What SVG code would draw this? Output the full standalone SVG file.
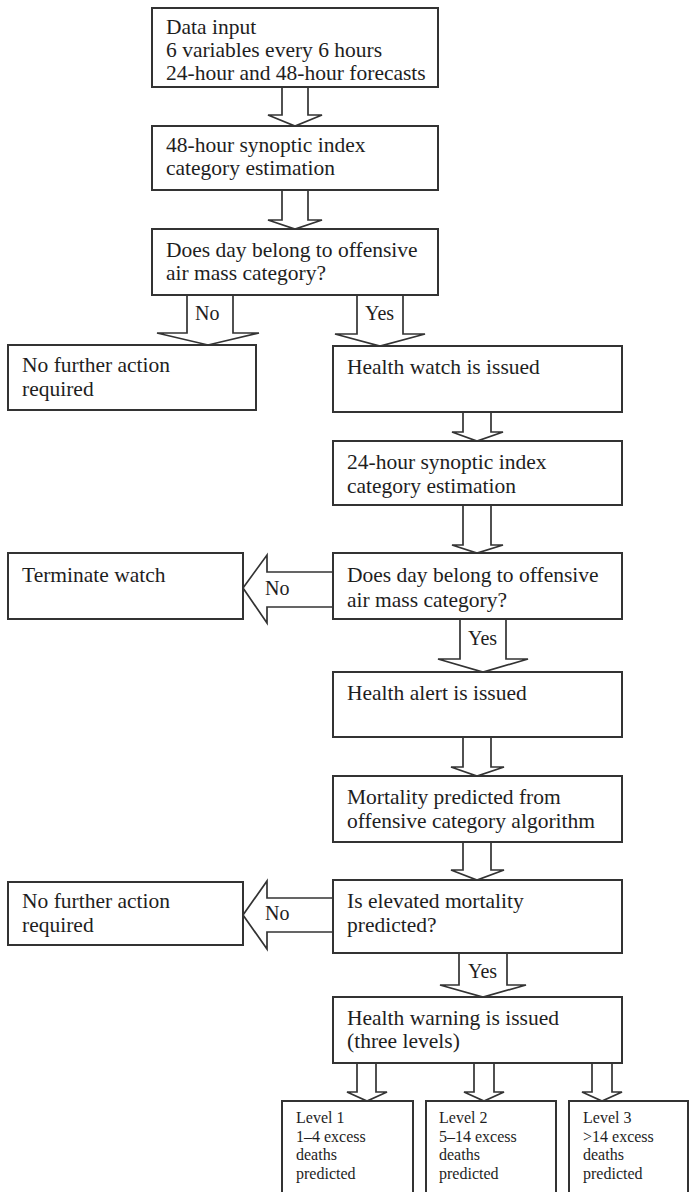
<svg xmlns="http://www.w3.org/2000/svg" width="690" height="1192" viewBox="0 0 690 1192">
<style>
.box{fill:#fff;stroke:#333;stroke-width:2}
.arr{fill:#fff;stroke:#333;stroke-width:1.7;stroke-linejoin:miter}
text{font-family:"Liberation Serif","Times New Roman",serif;fill:#1e1e1e}
.t{font-size:21.5px}
.s{font-size:16px}
.l{font-size:20px}
</style>
<rect width="690" height="1192" fill="#fff"/>
<g id="connectors">
<path class="arr" d="M282,87 V115 H268 L295,126 L322,115 H308 V87"/>
<path class="arr" d="M282,190 V220 H268 L295,229 L322,220 H308 V190"/>
<path class="arr" d="M187,295 V333 H157 L208,345 L259,333 H233 V295"/>
<text class="l" x="195" y="320">No</text>
<path class="arr" d="M357,295 V334 H335 L380,346 L425,334 H403 V295"/>
<text class="l" x="365" y="320">Yes</text>
<path class="arr" d="M463,412 V432 H452 L477,441 L503,432 H491 V412"/>
<path class="arr" d="M463,505 V545 H452 L477,553 L503,545 H491 V505"/>
<path class="arr" d="M333,572 H267 V555 L243,588 L267,623 V607 H333"/>
<text class="l" x="265" y="595">No</text>
<path class="arr" d="M460,619 V659 H438 L483,672 L528,659 H506 V619"/>
<text class="l" x="468" y="645">Yes</text>
<path class="arr" d="M463,737 V767 H451 L477,776 L504,767 H491 V737"/>
<path class="arr" d="M463,842 V870 H451 L477,880 L504,870 H491 V842"/>
<path class="arr" d="M333,898 H267 V881 L243,915 L267,949 V932 H333"/>
<text class="l" x="265" y="920">No</text>
<path class="arr" d="M459,953 V985 H440 L483,997 L526,985 H507 V953"/>
<text class="l" x="468" y="978">Yes</text>
<path class="arr" d="M357,1063 V1092 H347 L367,1101 L387,1092 H376 V1063"/>
<path class="arr" d="M474,1063 V1092 H464 L484,1101 L504,1092 H494 V1063"/>
<path class="arr" d="M592,1063 V1092 H582 L602,1101 L622,1092 H612 V1063"/>
</g>
<g id="n1"><rect class="box" x="152" y="8" width="286" height="79"/>
<text class="t" x="166" y="34">Data input</text><text class="t" x="166" y="57">6 variables every 6 hours</text><text class="t" x="166" y="80">24-hour and 48-hour forecasts</text></g>
<g id="n2"><rect class="box" x="152" y="126" width="286" height="64"/>
<text class="t" x="166" y="152">48-hour synoptic index</text><text class="t" x="166" y="175">category estimation</text></g>
<g id="n3"><rect class="box" x="152" y="229" width="286" height="66"/>
<text class="t" x="166" y="257">Does day belong to offensive</text><text class="t" x="166" y="280">air mass category?</text></g>
<g id="n4"><rect class="box" x="8" y="345" width="248" height="65"/>
<text class="t" x="22" y="372">No further action</text><text class="t" x="22" y="396">required</text></g>
<g id="n5"><rect class="box" x="333" y="346" width="289" height="66"/>
<text class="t" x="347" y="374">Health watch is issued</text></g>
<g id="n6"><rect class="box" x="333" y="441" width="289" height="64"/>
<text class="t" x="347" y="469">24-hour synoptic index</text><text class="t" x="347" y="493">category estimation</text></g>
<g id="n7"><rect class="box" x="333" y="553" width="289" height="66"/>
<text class="t" x="347" y="582">Does day belong to offensive</text><text class="t" x="347" y="607">air mass category?</text></g>
<g id="n8"><rect class="box" x="8" y="553" width="235" height="66"/>
<text class="t" x="22" y="582">Terminate watch</text></g>
<g id="n9"><rect class="box" x="333" y="672" width="289" height="65"/>
<text class="t" x="347" y="700">Health alert is issued</text></g>
<g id="n10"><rect class="box" x="333" y="776" width="289" height="66"/>
<text class="t" x="347" y="804">Mortality predicted from</text><text class="t" x="347" y="828">offensive category algorithm</text></g>
<g id="n11"><rect class="box" x="333" y="880" width="289" height="73"/>
<text class="t" x="347" y="908">Is elevated mortality</text><text class="t" x="347" y="932">predicted?</text></g>
<g id="n12"><rect class="box" x="8" y="882" width="235" height="63"/>
<text class="t" x="22" y="908">No further action</text><text class="t" x="22" y="932">required</text></g>
<g id="n13"><rect class="box" x="333" y="997" width="289" height="66"/>
<text class="t" x="347" y="1025">Health warning is issued</text><text class="t" x="347" y="1048">(three levels)</text></g>
<g id="n14"><rect class="box" x="282" y="1101" width="131" height="100"/>
<text class="s" x="296" y="1123">Level 1</text><text class="s" x="296" y="1142">1–4 excess</text><text class="s" x="296" y="1160">deaths</text><text class="s" x="296" y="1179">predicted</text></g>
<g id="n15"><rect class="box" x="426" y="1101" width="130" height="100"/>
<text class="s" x="439" y="1123">Level 2</text><text class="s" x="439" y="1142">5–14 excess</text><text class="s" x="439" y="1160">deaths</text><text class="s" x="439" y="1179">predicted</text></g>
<g id="n16"><rect class="box" x="569" y="1101" width="119" height="100"/>
<text class="s" x="583" y="1123">Level 3</text><text class="s" x="583" y="1142">&gt;14 excess</text><text class="s" x="583" y="1160">deaths</text><text class="s" x="583" y="1179">predicted</text></g>
</svg>
